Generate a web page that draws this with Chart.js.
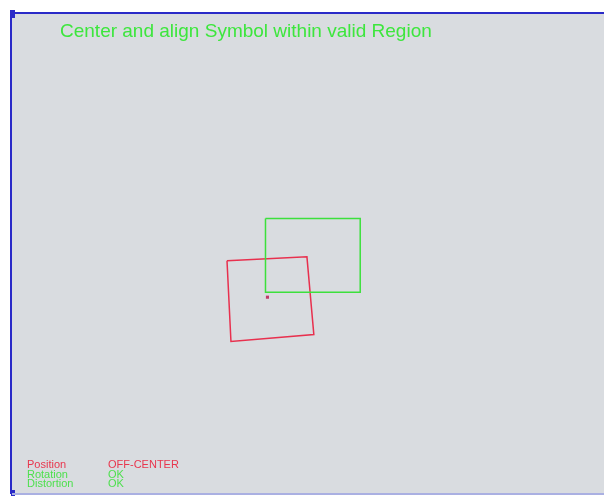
<!DOCTYPE html>
<html>
<head>
<meta charset="utf-8">
<script src="https://cdn.jsdelivr.net/npm/chart.js@4"></script>
<style>
  html, body { margin: 0; padding: 0; background: #ffffff; }
  #wrap { width: 604px; height: 496px; }
</style>
</head>
<body>
<div id="wrap"><canvas id="c" width="604" height="496"></canvas></div>
<script>
// valid region (green) and detected symbol (red), in picture pixels
const regionX = [265, 361, 361, 265, 265];
const regionY = [218, 218, 293, 293, 218];
const symbolX = [226, 307, 314, 230, 226];
const symbolY = [261, 257, 336, 343, 261];
const centerX = [267];
const centerY = [298];

const title = "Center and align Symbol within valid Region";
const statusNames = ["Position", "Rotation", "Distortion"];
const statusValues = ["OFF-CENTER", "OK", "OK"];
const statusOk = [false, true, true];

const toPoints = (xs, ys) => xs.map((x, i) => ({ x: x, y: ys[i] }));

// frame, background and texts of the inspection screen
const screenPlugin = {
  id: "screen",
  beforeDatasetsDraw(chart) {
    const ctx = chart.ctx;
    ctx.save();
    ctx.fillStyle = "#d9dce0";
    ctx.fillRect(11, 14, 593, 479);
    ctx.fillStyle = "#2a2ac8";
    ctx.fillRect(10, 12, 594, 2);
    ctx.fillRect(10, 12, 2, 482);
    ctx.fillRect(10, 10, 5, 8);
    ctx.fillRect(11, 490, 4, 6);
    ctx.fillStyle = "#aab0e2";
    ctx.fillRect(12, 493, 592, 2);
    ctx.restore();
  },
  afterDatasetsDraw(chart) {
    const ctx = chart.ctx;
    ctx.save();
    ctx.textBaseline = "alphabetic";
    ctx.fillStyle = "#3de63d";
    ctx.font = "19px 'Liberation Sans', Arial, sans-serif";
    ctx.fillText(title, 60, 37);
    ctx.font = "11px 'Liberation Sans', Arial, sans-serif";
    statusNames.forEach((name, i) => {
      ctx.fillStyle = statusOk[i] ? "#4ee04e" : "#e8364e";
      const y = 468 + i * 9.5;
      ctx.fillText(name, 27, y);
      ctx.fillText(statusValues[i], 108, y);
    });
    ctx.restore();
  }
};

new Chart(document.getElementById("c"), {
  type: "scatter",
  data: {
    datasets: [
      {
        label: "Region",
        data: toPoints(regionX, regionY),
        showLine: true,
        borderColor: "#3ce03c",
        borderWidth: 1.5,
        pointRadius: 0,
        tension: 0
      },
      {
        label: "Symbol",
        data: toPoints(symbolX, symbolY),
        showLine: true,
        borderColor: "#e8304e",
        borderWidth: 1.5,
        pointRadius: 0,
        tension: 0
      },
      {
        label: "Center",
        data: toPoints(centerX, centerY),
        pointStyle: "rect",
        pointRadius: 2.2,
        backgroundColor: "#c03a6a",
        borderColor: "#c03a6a",
        borderWidth: 0
      }
    ]
  },
  options: {
    responsive: false,
    animation: false,
    layout: { padding: 0 },
    plugins: { legend: { display: false }, tooltip: { enabled: false } },
    scales: {
      x: { type: "linear", min: 0, max: 604, display: false },
      y: { type: "linear", min: 0, max: 496, reverse: true, display: false }
    }
  },
  plugins: [screenPlugin]
});
</script>
</body>
</html>
